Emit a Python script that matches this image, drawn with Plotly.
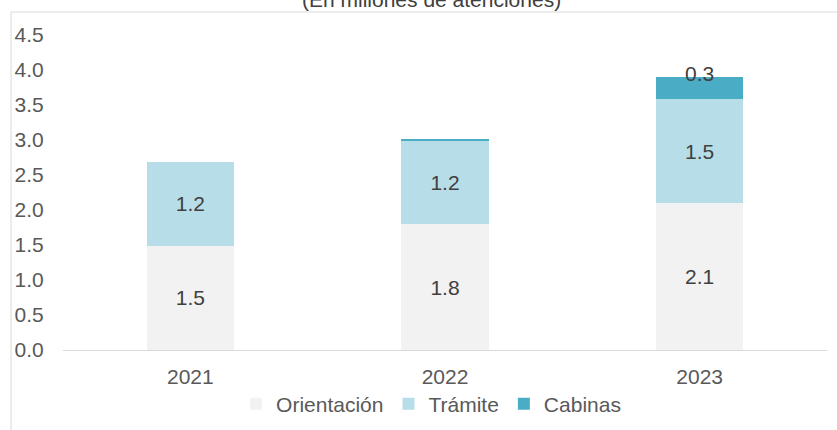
import plotly.graph_objects as go

years = ["2021", "2022", "2023"]
orientacion = [1.49, 1.80, 2.10]
tramite = [1.20, 1.19, 1.48]
cabinas = [0.00, 0.03, 0.32]
series_names = ["Orientación", "Trámite", "Cabinas"]
colors = ["#F2F2F2", "#B7DEE8", "#4BACC6"]
title_text = "(En millones de atenciones)"

FONT = "Liberation Sans, Arial, sans-serif"
FS = 21
LABEL_COLOR = "#404040"
TICK_COLOR = "#595959"

fig = go.Figure()
for name, vals, col, show_text in [
    (series_names[0], orientacion, colors[0], True),
    (series_names[1], tramite, colors[1], True),
    (series_names[2], cabinas, colors[2], False),
]:
    if show_text:
        kw = dict(texttemplate="%{y:.1f}", textposition="inside",
                  insidetextanchor="middle",
                  textfont=dict(family=FONT, size=FS, color=LABEL_COLOR))
    else:
        kw = dict(textposition="none")
    fig.add_trace(go.Bar(
        x=years, y=vals, name=name,
        marker=dict(color=col, line=dict(width=0)),
        hoverinfo="skip", **kw,
    ))

# Cabinas labels (only where visible), anchored at the stack top
totals = [o + t + c for o, t, c in zip(orientacion, tramite, cabinas)]
annotations = []
for i, (c, tot) in enumerate(zip(cabinas, totals)):
    if c >= 0.1:
        annotations.append(dict(
            x=i, y=tot, xref="x", yref="y", text=f"{c:.1f}",
            showarrow=False, xanchor="center", yanchor="middle", yshift=4,
            font=dict(family=FONT, size=FS, color=LABEL_COLOR),
        ))

annotations.append(dict(
    x=0.482, y=1, xref="paper", yref="paper", text=title_text,
    showarrow=False, xanchor="center", yanchor="middle", yshift=36,
    font=dict(family=FONT, size=FS, color=LABEL_COLOR),
))

fig.update_layout(
    width=837, height=430,
    margin=dict(l=63, r=10, t=35, b=80, autoexpand=False),
    paper_bgcolor="white", plot_bgcolor="white",
    barmode="stack", bargap=0.658,
    font=dict(family=FONT, size=FS, color=TICK_COLOR),
    showlegend=True,
    legend=dict(
        orientation="h",
        xref="container", x=0.515, xanchor="center",
        yref="container", y=0.06, yanchor="middle",
        font=dict(family=FONT, size=FS, color=TICK_COLOR),
        traceorder="normal", bgcolor="rgba(0,0,0,0)",
    ),
    annotations=annotations,
    shapes=[dict(
        type="rect", xref="paper", yref="paper",
        x0=-0.068, x1=1.05, y0=-0.5, y1=1.073,
        line=dict(color="#D9D9D9", width=1), fillcolor="rgba(0,0,0,0)",
        layer="below",
    )],
)
fig.update_xaxes(
    type="category", categoryorder="array", categoryarray=years,
    range=[-0.5, len(years) - 0.5], automargin=False,
    showgrid=False, zeroline=False,
    showline=True, linecolor="#D9D9D9", linewidth=1,
    ticks="outside", ticklen=8, tickcolor="rgba(0,0,0,0)",
    tickfont=dict(family=FONT, size=FS, color=TICK_COLOR),
)
fig.update_yaxes(
    range=[0, 4.5], dtick=0.5, tick0=0, tickformat=".1f", automargin=False,
    showgrid=False, zeroline=False, showline=False,
    ticks="outside", ticklen=14, tickcolor="rgba(0,0,0,0)",
    tickfont=dict(family=FONT, size=FS, color=TICK_COLOR),
)

fig.write_html(
    "out.html",
    config={"displayModeBar": False},
    post_script="document.body.style.margin='0';document.body.style.overflow='hidden';",
)
